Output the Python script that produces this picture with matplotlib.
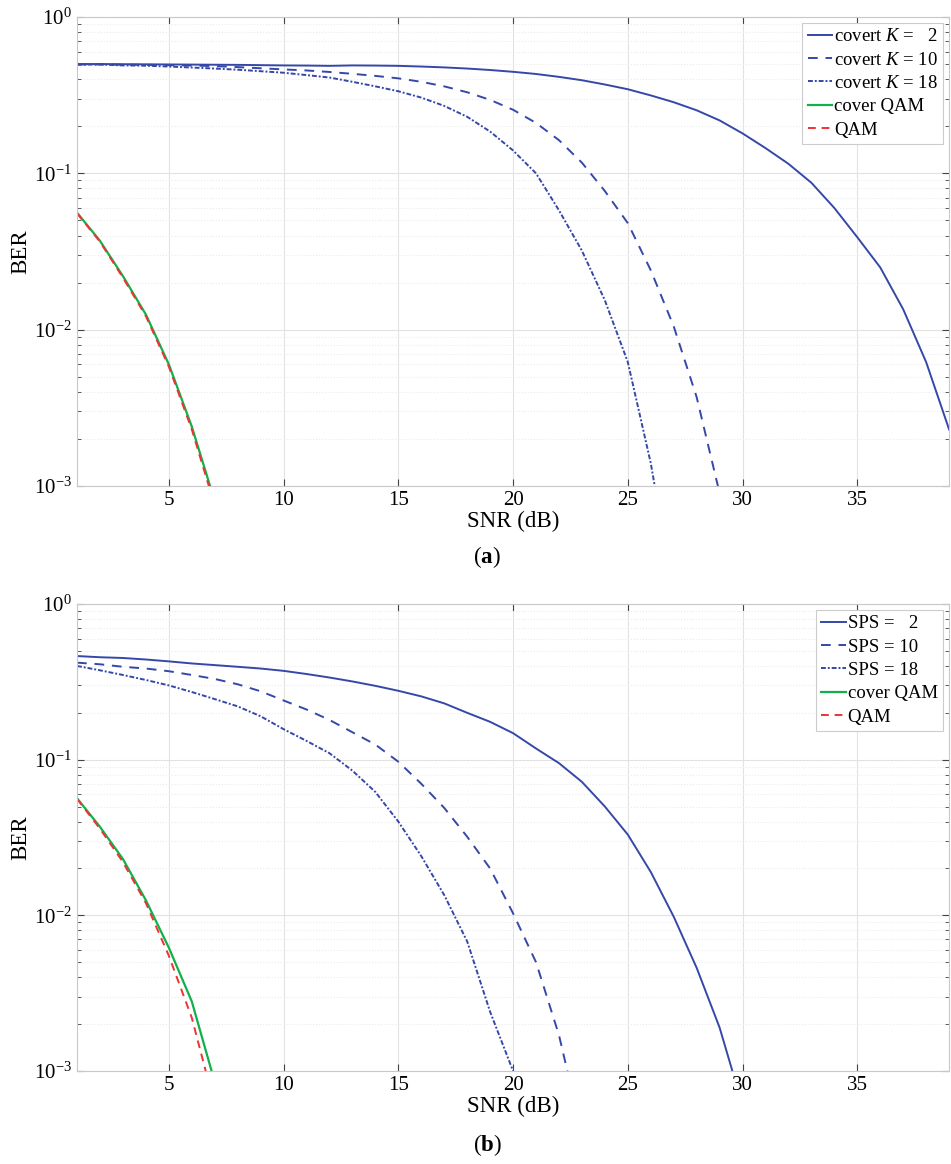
import matplotlib
matplotlib.use('Agg')
import matplotlib.pyplot as plt
from matplotlib.ticker import LogLocator, NullFormatter

plt.rcParams['font.family'] = ['Liberation Serif', 'DejaVu Serif']
plt.rcParams['mathtext.fontset'] = 'custom'
plt.rcParams['mathtext.rm'] = 'Liberation Serif'
plt.rcParams['mathtext.it'] = 'Liberation Serif:italic'
plt.rcParams['mathtext.bf'] = 'Liberation Serif:bold'

# ---- (a) covert K ----
snr_k2 = list(range(1, 40))
ber_k2 = [0.500, 0.500, 0.499, 0.498, 0.497, 0.496, 0.495, 0.494, 0.492, 0.490,
          0.489, 0.487, 0.490, 0.489, 0.487, 0.482, 0.476, 0.468, 0.458, 0.446,
          0.432, 0.414, 0.394, 0.370, 0.345, 0.315, 0.285, 0.253, 0.218, 0.180,
          0.145, 0.115, 0.087, 0.060, 0.039, 0.025, 0.0135, 0.0062, 0.0023]

snr_k10 = list(range(1, 30))
ber_k10 = [0.497, 0.497, 0.495, 0.494, 0.492, 0.489, 0.485, 0.478, 0.470, 0.462,
           0.455, 0.445, 0.433, 0.420, 0.405, 0.385, 0.360, 0.330, 0.295, 0.255,
           0.210, 0.163, 0.117, 0.077, 0.048, 0.024, 0.0105, 0.0037, 0.0009]

snr_k18 = list(range(1, 28))
ber_k18 = [0.495, 0.497, 0.490, 0.488, 0.482, 0.475, 0.468, 0.460, 0.450, 0.440,
           0.425, 0.410, 0.385, 0.360, 0.335, 0.305, 0.270, 0.230, 0.185, 0.140,
           0.100, 0.058, 0.032, 0.0154, 0.0062, 0.0014, 0.0002]

snr_qam = list(range(1, 8))
ber_cover_a = [0.056, 0.037, 0.022, 0.0125, 0.0060, 0.0024, 0.0008]
ber_qam_a = [0.0555, 0.0365, 0.0215, 0.0122, 0.0058, 0.0023, 0.00075]

# ---- (b) SPS ----
snr_s2 = list(range(1, 31))
ber_s2 = [0.463, 0.455, 0.450, 0.440, 0.428, 0.415, 0.405, 0.395, 0.385, 0.372,
          0.355, 0.337, 0.318, 0.298, 0.277, 0.255, 0.230, 0.200, 0.175, 0.148,
          0.118, 0.095, 0.072, 0.050, 0.033, 0.019, 0.0098, 0.0046, 0.0019, 0.0006]

snr_s10 = list(range(1, 24))
ber_s10 = [0.420, 0.410, 0.395, 0.385, 0.370, 0.350, 0.330, 0.305, 0.275, 0.240,
           0.210, 0.180, 0.150, 0.125, 0.097, 0.070, 0.049, 0.032, 0.020, 0.0103,
           0.0050, 0.0017, 0.0004]

snr_s18 = list(range(1, 22))
ber_s18 = [0.400, 0.375, 0.350, 0.325, 0.300, 0.272, 0.245, 0.220, 0.190, 0.157,
           0.132, 0.110, 0.085, 0.062, 0.040, 0.024, 0.0135, 0.0068, 0.0024, 0.0010,
           0.0003]

ber_cover_b = [0.0565, 0.037, 0.023, 0.0125, 0.0062, 0.0028, 0.00085]
ber_qam_b = [0.056, 0.036, 0.022, 0.012, 0.0055, 0.0022, 0.0006]

blue = '#3548a8'
green = '#12b04a'
red = '#ee3333'

fig = plt.figure(figsize=(9.51, 11.64), dpi=100)
ax1 = fig.add_axes([0.081, 0.5825, 0.917, 0.4029])
ax2 = fig.add_axes([0.081, 0.0799, 0.917, 0.4012])


def style(ax):
    ax.set_yscale('log')
    ax.set_xlim(1, 39)
    ax.set_ylim(1e-3, 1)
    ax.set_xticks([5, 10, 15, 20, 25, 30, 35])
    ax.yaxis.set_major_locator(LogLocator(base=10, numticks=10))
    ax.yaxis.set_minor_locator(LogLocator(base=10, subs=range(2, 10), numticks=10))
    ax.yaxis.set_minor_formatter(NullFormatter())
    for s in ax.spines.values():
        s.set_color('#c8c8c8')
    ax.tick_params(which='both', direction='in', top=True, right=True,
                   color='#444444', labelsize=15)
    ax.tick_params(which='major', length=5)
    ax.tick_params(which='minor', length=3)
    ax.grid(True, which='major', color='#e2e2e2', linewidth=0.8)
    ax.grid(True, which='minor', axis='y', color='#ebebeb', linestyle=':', linewidth=0.8)
    ax.set_axisbelow(True)
    ax.set_xlabel('SNR (dB)', fontsize=16.5, labelpad=1)
    ax.set_ylabel('BER', fontsize=16.5, labelpad=2)


dashdot = (0, (2.5, 1, 1, 1))

ax1.plot(snr_k2, ber_k2, color=blue, lw=1.4, label='covert $K$ =   2')
ax1.plot(snr_k10, ber_k10, color=blue, lw=1.4, ls=(0, (5, 4)), label='covert $K$ = 10')
ax1.plot(snr_k18, ber_k18, color=blue, lw=1.4, ls=dashdot, label='covert $K$ = 18')
ax1.plot(snr_qam, ber_cover_a, color=green, lw=1.6, label='cover QAM')
ax1.plot(snr_qam, ber_qam_a, color=red, lw=1.4, ls=(0, (4, 3)), label='QAM')
style(ax1)

ax2.plot(snr_s2, ber_s2, color=blue, lw=1.4, label='SPS =   2')
ax2.plot(snr_s10, ber_s10, color=blue, lw=1.4, ls=(0, (5, 4)), label='SPS = 10')
ax2.plot(snr_s18, ber_s18, color=blue, lw=1.4, ls=dashdot, label='SPS = 18')
ax2.plot(snr_qam, ber_cover_b, color=green, lw=1.6, label='cover QAM')
ax2.plot(snr_qam, ber_qam_b, color=red, lw=1.4, ls=(0, (4, 3)), label='QAM')
style(ax2)

for ax in (ax1, ax2):
    leg = ax.legend(loc='upper right', fontsize=13.5, handlelength=1.3, handletextpad=0.1,
                    labelspacing=0.33, borderaxespad=0.3, borderpad=0.3,
                    fancybox=False, framealpha=1)
    leg.get_frame().set_edgecolor('#cccccc')
    leg.get_frame().set_linewidth(0.8)

fig.text(487 / 951, 1 - 557 / 1164, r'($\mathbf{a}$)', ha='center', va='center', fontsize=16.5)
fig.text(487 / 951, 1 - 1145 / 1164, r'($\mathbf{b}$)', ha='center', va='center', fontsize=16.5)

fig.savefig('out.png', dpi=100)
